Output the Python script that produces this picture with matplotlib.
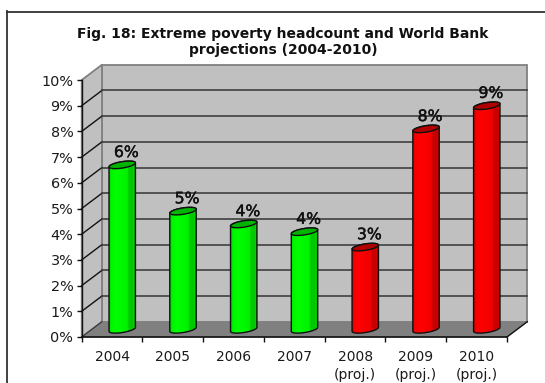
import numpy as np
import matplotlib
matplotlib.use("Agg")
import matplotlib.pyplot as plt
import matplotlib.patheffects as pe
from matplotlib.colors import LinearSegmentedColormap
from matplotlib.lines import Line2D
from matplotlib.patches import Polygon

years = ["2004", "2005", "2006", "2007", "2008\n(proj.)", "2009\n(proj.)", "2010\n(proj.)"]
headcount = [6.4, 4.6, 4.1, 3.8, 3.2, 7.8, 8.7]
observed = [True, True, True, True, False, False, False]
percent_ticks = list(range(0, 11))
title = "Fig. 18: Extreme poverty headcount and World Bank\nprojections (2004-2010)"

W, H = 545, 383
fig = plt.figure(figsize=(W / 100, H / 100), dpi=100, facecolor="white")
plt.rcParams["font.family"] = "DejaVu Sans"

# front plane of the 3-D box, in pixels
L, R, B, T = 81.7, 507.0, 337.0, 80.0
ax = fig.add_axes([L / W, 1 - B / H, (R - L) / W, (B - T) / H])
ax.set_xlim(0, len(years))
ax.set_ylim(0, 10)
ax.patch.set_visible(False)
for s in ax.spines.values():
    s.set_visible(False)

dx = 20.3 / ((R - L) / len(years))
dy = 15.3 / ((B - T) / 10)
n = len(years)

# chart frame: top rule and left rule only
fig.add_artist(Line2D([7 / W, 1], [1 - 11.5 / H] * 2, color="#333333", lw=1.3))
fig.add_artist(Line2D([7 / W] * 2, [0, 1 - 11 / H], color="#333333", lw=1.3))

wall_edge = "#808080"
ax.add_patch(Polygon([(dx, dy), (n + dx, dy), (n + dx, 10 + dy), (dx, 10 + dy)],
                     fc="#c0c0c0", ec=wall_edge, lw=1.3, clip_on=False, zorder=1))
ax.add_patch(Polygon([(0, 0), (dx, dy), (dx, 10 + dy), (0, 10)],
                     fc="#c0c0c0", ec=wall_edge, lw=1.3, clip_on=False, zorder=1))
ax.add_patch(Polygon([(0, 0), (n, 0), (n + dx, dy), (dx, dy)],
                     fc="#808080", ec="#808080", lw=0.5, clip_on=False, zorder=1))

# gridlines run across the side wall and the back wall
for v in percent_ticks[1:-1]:
    ax.plot([0, dx], [v, v + dy], color="#111111", lw=1.0, clip_on=False, zorder=2)
    ax.plot([dx, n + dx], [v + dy, v + dy], color="#404040", lw=1.2, clip_on=False, zorder=2)
ax.plot([n, n + dx], [0, dy], color="#111111", lw=1.0, clip_on=False, zorder=3)
ax.plot([0, dx], [0, dy], color="#333333", lw=0.8, clip_on=False, zorder=3)

# axis lines and ticks
ax.plot([0, 0], [0, 10], color="#111111", lw=1.0, clip_on=False, zorder=4)
ax.plot([0, n], [0, 0], color="#111111", lw=1.2, clip_on=False, zorder=4)
ax.set_yticks(percent_ticks)
ax.set_yticklabels([f"{v}%" for v in percent_ticks], fontsize=10.4, color="#1a1a1a")
ax.set_xticks(np.arange(n + 1))
ax.set_xticklabels([""] * (n + 1))
ax.tick_params(axis="both", length=3.5, width=1.0, color="#111111", pad=2.5)

# year labels sit between the ticks
for i, lab in enumerate(years):
    ax.annotate(lab, (i + 0.5, 0), xytext=(0, -9.5), textcoords="offset points",
                ha="center", va="top", fontsize=10, color="#1a1a1a",
                linespacing=1.32, annotation_clip=False)

green = LinearSegmentedColormap.from_list("g", [
    (0.0, "#00d800"), (0.08, "#00f400"), (0.25, "#00ff00"), (0.70, "#00f000"),
    (0.72, "#00cc00"), (0.88, "#00c400"), (0.9, "#00d800"), (1.0, "#00b400")])
red = LinearSegmentedColormap.from_list("r", [
    (0.0, "#d80000"), (0.08, "#f40000"), (0.25, "#ff0000"), (0.70, "#f00000"),
    (0.72, "#cc0000"), (0.88, "#c40000"), (0.9, "#d80000"), (1.0, "#b40000")])
ramp = np.linspace(0, 1, 128).reshape(1, -1)

half = 13.2 / ((R - L) / n)
base = dy / 2
b_ell = 3.2 / ((B - T) / 10)
tilt = 2.0 / ((B - T) / 10)
t_back = np.linspace(0, np.pi, 40)
t_front = np.linspace(np.pi, 2 * np.pi, 40)


def arc(cx, cy, t):
    c, s = np.cos(t), np.sin(t)
    return np.column_stack([cx + half * c, cy + b_ell * s + tilt * c])


for i, (v, obs) in enumerate(zip(headcount, observed)):
    cx = i + 0.5 + dx / 2
    top = v + base
    outline = np.vstack([arc(cx, base, t_front), arc(cx, top, t_back)])
    body = Polygon(outline, closed=True, fc="none", ec="none", transform=ax.transData)
    ax.add_patch(body)
    im = ax.imshow(ramp, extent=[cx - half, cx + half, base - 1, top + 1], aspect="auto",
                   cmap=green if obs else red, zorder=5, origin="lower")
    im.set_clip_path(body)
    ax.add_patch(Polygon(outline, closed=True, fc="none", ec="#101010", lw=1.0,
                         clip_on=False, zorder=6))
    lid = np.vstack([arc(cx, top, t_back), arc(cx, top, t_front)])
    ax.add_patch(Polygon(lid, closed=True, fc="#00b400" if obs else "#b00000", ec="#101010",
                         lw=1.0, clip_on=False, zorder=7))
    ax.annotate(f"{v:.0f}%", (cx, top), xytext=(3, 3.5), textcoords="offset points",
                ha="center", va="bottom", fontsize=11.3, color="#111111",
                zorder=8, annotation_clip=False,
                path_effects=[pe.withStroke(linewidth=0.3, foreground="#111111")])

ax.set_xlim(0, n)
ax.set_ylim(0, 10)

fig.text(283 / W, 1 - 42 / H, title, ha="center", va="center", fontsize=10,
         fontweight="bold", color="#111111", linespacing=1.2)

fig.savefig("out.png", dpi=100)
